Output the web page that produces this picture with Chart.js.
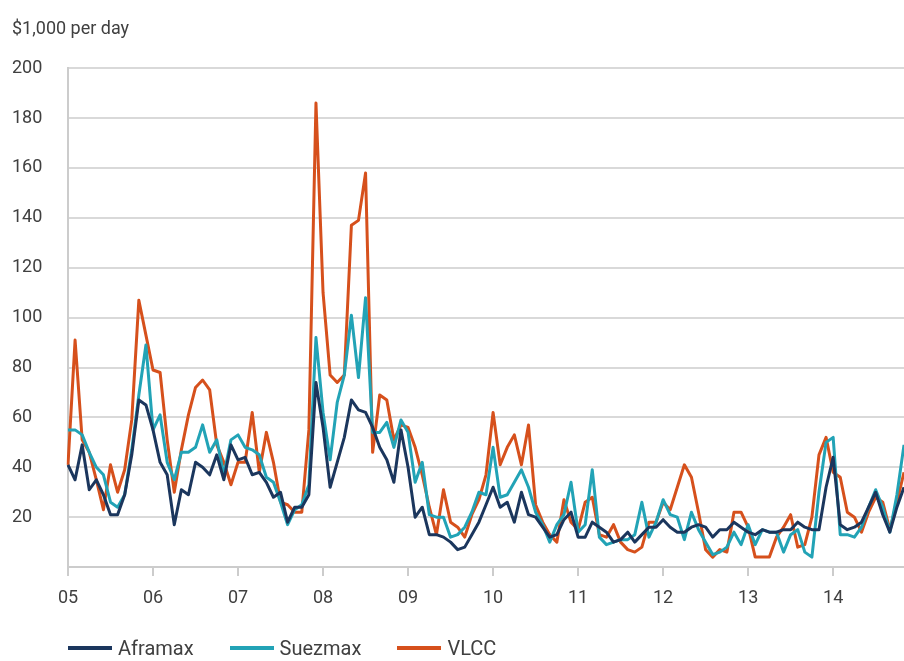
<!DOCTYPE html>
<html>
<head>
<meta charset="utf-8">
<script src="https://cdn.jsdelivr.net/npm/chart.js@4.4.1/dist/chart.umd.min.js"></script>
<style>
  html, body { margin: 0; padding: 0; background: #fff; }
  #wrap { position: relative; width: 904px; height: 661px; overflow: hidden; }
  #legend {
    position: absolute; left: 68px; top: 636px;
    display: flex; align-items: center;
    font: 20px 'Roboto', sans-serif;
    color: #404040; line-height: 24px;
  }
  #legend .item { display: flex; align-items: center; margin-right: 36px; }
  #legend .swatch { width: 44px; height: 4px; margin-right: 6px; }
</style>
</head>
<body>
<div id="wrap">
  <canvas id="chart" width="904" height="661"></canvas>
  <div id="legend"></div>
</div>
<script>
// monthly TCE earnings, $1,000 per day, Jan 2005 .. Nov 2014
const yearLabels = ['05', '06', '07', '08', '09', '10', '11', '12', '13', '14'];
const months = yearLabels.flatMap(y => ['01','02','03','04','05','06','07','08','09','10','11','12'].map(m => y + '-' + m)).slice(0, 119);

const aframax = [
  41, 35, 49, 31, 35, 29, 21, 21, 29, 45, 67, 65,
  55, 42, 37, 17, 31, 29, 42, 40, 37, 45, 35, 49,
  43, 44, 37, 38, 34, 28, 30, 18, 24, 24, 29, 74,
  56, 32, 42, 52, 67, 63, 62, 56, 48, 43, 34, 55,
  40, 20, 24, 13, 13, 12, 10, 7, 8, 13, 18, 25,
  32, 24, 26, 18, 30, 21, 20, 16, 12, 13, 19, 22,
  12, 12, 18, 16, 14, 10, 11, 14, 10, 13, 16, 16,
  19, 16, 14, 14, 16, 17, 16, 12, 15, 15, 18, 16,
  14, 13, 15, 14, 14, 15, 15, 18, 16, 15, 15, 32,
  44, 17, 15, 16, 18, 24, 30, 21, 14, 24, 32
];
const suezmax = [
  55, 55, 53, 46, 40, 37, 26, 24, 29, 47, 69, 89,
  55, 61, 42, 35, 46, 46, 48, 57, 46, 51, 37, 51,
  53, 48, 47, 45, 36, 34, 26, 17, 23, 25, 33, 92,
  62, 43, 66, 77, 101, 76, 108, 54, 54, 58, 48, 59,
  54, 34, 42, 21, 20, 20, 12, 13, 16, 22, 30, 29,
  48, 28, 29, 34, 39, 32, 22, 17, 10, 17, 21, 34,
  14, 17, 39, 12, 9, 10, 11, 11, 13, 26, 12, 18,
  27, 21, 20, 11, 22, 15, 10, 5, 6, 8, 14, 9,
  17, 9, 15, 14, 14, 6, 13, 15, 6, 4, 30, 50,
  52, 13, 13, 12, 16, 24, 31, 24, 14, 29, 49
];
const vlcc = [
  41, 91, 51, 46, 35, 23, 41, 30, 39, 59, 107, 93,
  79, 78, 51, 30, 47, 61, 72, 75, 71, 49, 42, 33,
  42, 42, 62, 38, 54, 42, 26, 25, 22, 22, 55, 186,
  110, 77, 74, 77, 137, 139, 158, 46, 69, 67, 51, 57,
  56, 48, 37, 24, 13, 31, 18, 16, 12, 21, 27, 37,
  62, 41, 48, 53, 41, 57, 25, 18, 13, 10, 27, 18,
  15, 26, 28, 13, 12, 17, 10, 7, 6, 8, 18, 18,
  26, 23, 32, 41, 36, 22, 7, 4, 7, 6, 22, 22,
  16, 4, 4, 4, 12, 16, 21, 8, 9, 20, 45, 52,
  38, 36, 22, 20, 14, 22, 28, 26, 15, 26, 38
];

const FONT = "'Roboto', sans-serif";
const TEXT = '#404040';
const GRID = '#d9d9d9';
const AXIS = '#cccccc';

const series = [
  { label: 'Aframax', data: aframax, color: '#1b365d' },
  { label: 'Suezmax', data: suezmax, color: '#22a3b6' },
  { label: 'VLCC', data: vlcc, color: '#d6501c' },
];

const chart = new Chart(document.getElementById('chart'), {
  type: 'line',
  data: {
    labels: months,
    datasets: series.map(s => ({
      label: s.label, data: s.data,
      borderColor: s.color, backgroundColor: s.color,
      borderWidth: 3, pointRadius: 0, tension: 0,
      borderJoinStyle: 'round', fill: false,
    })),
  },
  options: {
    responsive: false,
    animation: false,
    layout: { padding: { left: 12, right: 0, top: 0, bottom: 41 } },
    plugins: {
      legend: { display: false },
      tooltip: { enabled: false },
      title: {
        display: true, text: '$1,000 per day', align: 'start',
        color: TEXT, font: { family: FONT, size: 18, weight: 'normal' },
        padding: { top: 19, bottom: 27.6 },
      },
    },
    scales: {
      x: {
        offset: false,
        grid: {
          drawOnChartArea: false, drawTicks: true, tickLength: 9, lineWidth: 2,
          color: ctx => (ctx.index % 12 === 0 ? AXIS : 'rgba(0,0,0,0)'),
        },
        border: { display: true, color: AXIS, width: 2 },
        ticks: {
          // padding 0 keeps the plot flush right; the tall line height drops the labels instead
          autoSkip: false, maxRotation: 0, padding: 0,
          color: TEXT, font: { family: FONT, size: 18, lineHeight: 2.44 },
          callback: (v, i) => (i % 12 === 0 ? yearLabels[i / 12] : ''),
        },
      },
      y: {
        min: 0, max: 200,
        grid: { color: GRID, lineWidth: 2, drawTicks: false },
        border: { display: true, color: AXIS, width: 2 },
        ticks: {
          stepSize: 20, crossAlign: 'far', padding: 0,
          color: TEXT, font: { family: FONT, size: 18 },
          callback: v => (v === 0 ? '' : v),
        },
        afterFit(scale) { scale.width = 56; },
      },
    },
  },
});

// html legend, built from the datasets
const legendEl = document.getElementById('legend');
chart.data.datasets.forEach(ds => {
  const item = document.createElement('div');
  item.className = 'item';
  item.innerHTML = '<span class="swatch" style="background:' + ds.borderColor + '"></span><span>' + ds.label + '</span>';
  legendEl.appendChild(item);
});
</script>
</body>
</html>
